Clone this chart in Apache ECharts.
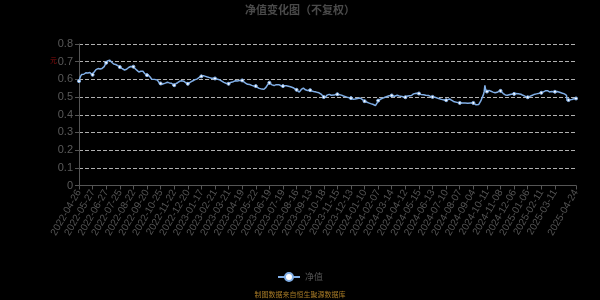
<!DOCTYPE html>
<html>
<head>
<meta charset="utf-8">
<script src="https://cdn.jsdelivr.net/npm/echarts@6/dist/echarts.min.js"></script>
<style>html,body{margin:0;padding:0;background:#000;}#c{width:600px;height:300px;}</style>
</head>
<body>
<div id="c"></div>
<script>
// Trading calendar (SSE) used for the category axis
const startDate = '2022-04-26';
const endDate = '2025-04-24';
const holidays = [
  '2022-05-02','2022-05-03','2022-05-04','2022-06-03','2022-09-12',
  '2022-10-03','2022-10-04','2022-10-05','2022-10-06','2022-10-07',
  '2023-01-02','2023-01-23','2023-01-24','2023-01-25','2023-01-26','2023-01-27',
  '2023-04-05','2023-05-01','2023-05-02','2023-05-03','2023-06-22','2023-06-23',
  '2023-09-29','2023-10-02','2023-10-03','2023-10-04','2023-10-05','2023-10-06',
  '2024-01-01','2024-02-09','2024-02-12','2024-02-13','2024-02-14','2024-02-15','2024-02-16',
  '2024-04-04','2024-04-05','2024-05-01','2024-05-02','2024-05-03','2024-06-10',
  '2024-09-16','2024-09-17','2024-10-01','2024-10-02','2024-10-03','2024-10-04','2024-10-07',
  '2025-01-01','2025-01-28','2025-01-29','2025-01-30','2025-01-31','2025-02-03','2025-02-04',
  '2025-04-04'
];
// period-end NAV dates published on non-trading days
const extraDays = ['2022-12-31','2023-09-30','2023-12-31','2024-03-31','2024-06-30'];

// 净值 (NAV), one value per date
const nav = [
  0.590,0.603,0.615,0.622,0.628,0.631,0.633,0.629,0.635,0.632,0.637,0.634,0.631,0.636,0.640,0.637,0.639,0.633,0.630,0.627,
  0.626,0.632,0.640,0.646,0.651,0.655,0.653,0.658,0.661,0.657,0.654,0.659,0.655,0.657,0.662,0.668,0.665,0.672,0.680,0.688,
  0.694,0.699,0.704,0.708,0.713,0.709,0.704,0.701,0.697,0.694,0.690,0.687,0.685,0.688,0.684,0.681,0.683,0.678,0.675,0.672,
  0.670,0.667,0.664,0.662,0.659,0.656,0.655,0.653,0.656,0.659,0.657,0.661,0.664,0.667,0.665,0.669,0.673,0.676,0.674,0.671,
  0.672,0.668,0.663,0.660,0.656,0.652,0.648,0.645,0.642,0.640,0.643,0.646,0.650,0.648,0.646,0.641,0.636,0.631,0.627,0.625,
  0.624,0.627,0.624,0.620,0.616,0.610,0.605,0.601,0.598,0.595,0.596,0.600,0.604,0.602,0.603,0.597,0.591,0.586,0.581,0.578,
  0.577,0.571,0.566,0.570,0.575,0.579,0.582,0.579,0.583,0.586,0.584,0.580,0.583,0.580,0.577,0.581,0.578,0.574,0.571,0.569,
  0.567,0.570,0.574,0.576,0.579,0.581,0.584,0.586,0.589,0.587,0.590,0.592,0.595,0.594,0.590,0.587,0.583,0.581,0.578,0.576,
  0.575,0.577,0.580,0.582,0.584,0.586,0.589,0.591,0.593,0.594,0.597,0.599,0.601,0.600,0.603,0.606,0.609,0.612,0.615,0.616,
  0.617,0.620,0.623,0.621,0.622,0.619,0.617,0.614,0.616,0.613,0.611,0.613,0.610,0.608,0.609,0.606,0.608,0.605,0.607,0.604,
  0.605,0.603,0.606,0.604,0.601,0.603,0.600,0.597,0.594,0.592,0.590,0.587,0.585,0.583,0.581,0.579,0.580,0.577,0.576,0.574,
  0.575,0.578,0.580,0.582,0.584,0.586,0.585,0.587,0.589,0.590,0.592,0.590,0.593,0.591,0.592,0.590,0.593,0.595,0.592,0.594,
  0.594,0.591,0.587,0.584,0.581,0.579,0.576,0.574,0.572,0.571,0.569,0.571,0.568,0.567,0.566,0.564,0.566,0.563,0.561,0.563,
  0.562,0.558,0.555,0.552,0.551,0.549,0.548,0.546,0.547,0.545,0.548,0.546,0.544,0.547,0.551,0.555,0.559,0.566,0.573,0.578,
  0.581,0.577,0.574,0.571,0.569,0.570,0.567,0.565,0.566,0.568,0.570,0.572,0.574,0.573,0.570,0.568,0.566,0.564,0.566,0.563,
  0.562,0.564,0.562,0.565,0.566,0.564,0.566,0.563,0.561,0.562,0.560,0.558,0.559,0.557,0.556,0.553,0.550,0.547,0.545,0.543,
  0.541,0.537,0.533,0.530,0.528,0.533,0.538,0.543,0.546,0.548,0.551,0.550,0.546,0.541,0.537,0.535,0.537,0.534,0.536,0.538,
  0.539,0.537,0.535,0.534,0.533,0.531,0.532,0.529,0.530,0.528,0.527,0.525,0.526,0.524,0.524,0.521,0.517,0.513,0.509,0.505,
  0.500,0.495,0.499,0.504,0.508,0.511,0.513,0.512,0.515,0.514,0.512,0.510,0.512,0.510,0.509,0.511,0.513,0.515,0.514,0.516,
  0.516,0.517,0.515,0.516,0.514,0.513,0.511,0.510,0.508,0.506,0.505,0.503,0.504,0.501,0.500,0.499,0.497,0.498,0.496,0.495,
  0.494,0.492,0.490,0.488,0.486,0.487,0.489,0.488,0.490,0.490,0.492,0.494,0.493,0.495,0.495,0.491,0.488,0.484,0.481,0.479,
  0.477,0.475,0.474,0.472,0.471,0.469,0.467,0.465,0.464,0.463,0.462,0.460,0.461,0.458,0.456,0.453,0.451,0.448,0.456,0.470,
  0.480,0.483,0.485,0.487,0.489,0.490,0.492,0.494,0.496,0.497,0.499,0.501,0.502,0.503,0.504,0.505,0.507,0.506,0.508,0.508,
  0.509,0.508,0.507,0.506,0.505,0.505,0.507,0.508,0.510,0.509,0.508,0.506,0.507,0.505,0.505,0.503,0.502,0.501,0.500,0.499,
  0.499,0.502,0.505,0.507,0.509,0.510,0.508,0.509,0.511,0.509,0.512,0.515,0.518,0.521,0.524,0.523,0.522,0.521,0.522,0.520,
  0.520,0.518,0.517,0.515,0.514,0.513,0.512,0.513,0.511,0.511,0.510,0.511,0.509,0.510,0.509,0.507,0.506,0.504,0.503,0.502,
  0.501,0.500,0.501,0.499,0.499,0.497,0.496,0.494,0.493,0.492,0.491,0.489,0.488,0.487,0.486,0.485,0.484,0.483,0.483,0.482,
  0.482,0.484,0.487,0.489,0.490,0.489,0.488,0.487,0.486,0.480,0.473,0.472,0.473,0.472,0.471,0.471,0.470,0.469,0.468,0.468,
  0.467,0.466,0.467,0.468,0.467,0.467,0.466,0.465,0.466,0.465,0.465,0.464,0.465,0.466,0.467,0.467,0.466,0.467,0.468,0.467,
  0.467,0.462,0.458,0.457,0.456,0.455,0.456,0.457,0.458,0.460,0.463,0.478,0.486,0.497,0.508,0.515,0.532,0.566,0.543,0.545,
  0.531,0.533,0.536,0.538,0.539,0.536,0.533,0.530,0.529,0.528,0.526,0.525,0.524,0.523,0.524,0.527,0.530,0.532,0.534,0.535,
  0.535,0.531,0.527,0.523,0.520,0.518,0.515,0.512,0.510,0.509,0.510,0.511,0.513,0.512,0.514,0.515,0.516,0.515,0.517,0.518,
  0.518,0.519,0.520,0.519,0.521,0.520,0.519,0.520,0.519,0.518,0.516,0.514,0.512,0.510,0.509,0.507,0.505,0.503,0.501,0.500,
  0.499,0.501,0.502,0.504,0.505,0.507,0.509,0.511,0.512,0.514,0.515,0.516,0.517,0.518,0.518,0.519,0.520,0.521,0.523,0.524,
  0.524,0.526,0.527,0.529,0.530,0.532,0.535,0.537,0.539,0.536,0.533,0.531,0.529,0.528,0.529,0.531,0.530,0.532,0.531,0.530,
  0.530,0.531,0.532,0.531,0.530,0.529,0.528,0.527,0.525,0.524,0.523,0.522,0.520,0.519,0.518,0.516,0.514,0.510,0.480,0.481,
  0.483,0.485,0.484,0.486,0.487,0.486,0.488,0.489,0.490,0.491,0.490,0.492
];

const yTicks = { min: 0, max: 0.8, interval: 0.1 };
const titleText = '净值变化图（不复权）';
const seriesName = '净值';
const unitText = '元';
const sourceText = '制图数据来自恒生聚源数据库';

// build category list of NAV dates
const holidaySet = new Set(holidays);
const extraSet = new Set(extraDays);
const dates = [];
(function () {
  const p = s => s.split('-').map(Number);
  const [sy, sm, sd] = p(startDate), [ey, em, ed] = p(endDate);
  let t = Date.UTC(sy, sm - 1, sd);
  const tEnd = Date.UTC(ey, em - 1, ed);
  while (t <= tEnd) {
    const d = new Date(t);
    const wd = d.getUTCDay();
    const s = d.toISOString().slice(0, 10);
    if ((wd !== 0 && wd !== 6 && !holidaySet.has(s)) || extraSet.has(s)) dates.push(s);
    t += 86400000;
  }
})();

const chart = echarts.init(document.getElementById('c'), null, { renderer: 'canvas' });
chart.setOption({
  backgroundColor: '#000',
  animation: false,
  title: {
    text: titleText, left: 'center', top: -1,
    textStyle: { color: '#4a4a4a', fontSize: 11, fontWeight: 'bold', fontFamily: 'Noto Sans CJK SC' }
  },
  legend: {
    data: [seriesName], bottom: 13, left: 'center', itemWidth: 22, itemHeight: 10,
    textStyle: { color: '#555', fontSize: 9, fontFamily: 'Noto Sans CJK SC' }
  },
  grid: { left: 79, right: 24, top: 44, bottom: 114.5, containLabel: false, outerBoundsMode: 'none' },
  xAxis: {
    type: 'category', data: dates, boundaryGap: false,
    axisLine: { lineStyle: { color: '#555' } },
    axisTick: { alignWithLabel: true, interval: 19, length: 4, lineStyle: { color: '#555' } },
    axisLabel: { interval: 19, showMaxLabel: true, rotate: 60, color: '#555', fontSize: 10, margin: 5 },
    splitLine: { show: false }
  },
  yAxis: {
    type: 'value', min: yTicks.min, max: yTicks.max, interval: yTicks.interval,
    axisLine: { show: true, lineStyle: { color: '#555' } },
    axisTick: { show: true, length: 4, lineStyle: { color: '#555' } },
    axisLabel: { color: '#5a5a5a', fontSize: 11, margin: 6 },
    splitLine: { lineStyle: { color: '#b0b0b0', type: 'dashed', width: 1 } }
  },
  graphic: [
    { type: 'text', left: 50, top: 58, style: { text: unitText, fill: '#9a1010', fontSize: 7 } },
    { type: 'text', left: 'center', top: 291, style: { text: sourceText, fill: '#a87b26', fontSize: 7, fontFamily: 'Noto Sans CJK SC' } }
  ],
  series: [{
    name: seriesName, type: 'line', data: nav,
    showSymbol: true, showAllSymbol: 'auto', symbol: 'circle', symbolSize: 3,
    lineStyle: { color: '#80aee6', width: 1.5 },
    itemStyle: { color: '#ffffff', borderColor: '#80aee6', borderWidth: 1 }
  }]
});
</script>
</body>
</html>
